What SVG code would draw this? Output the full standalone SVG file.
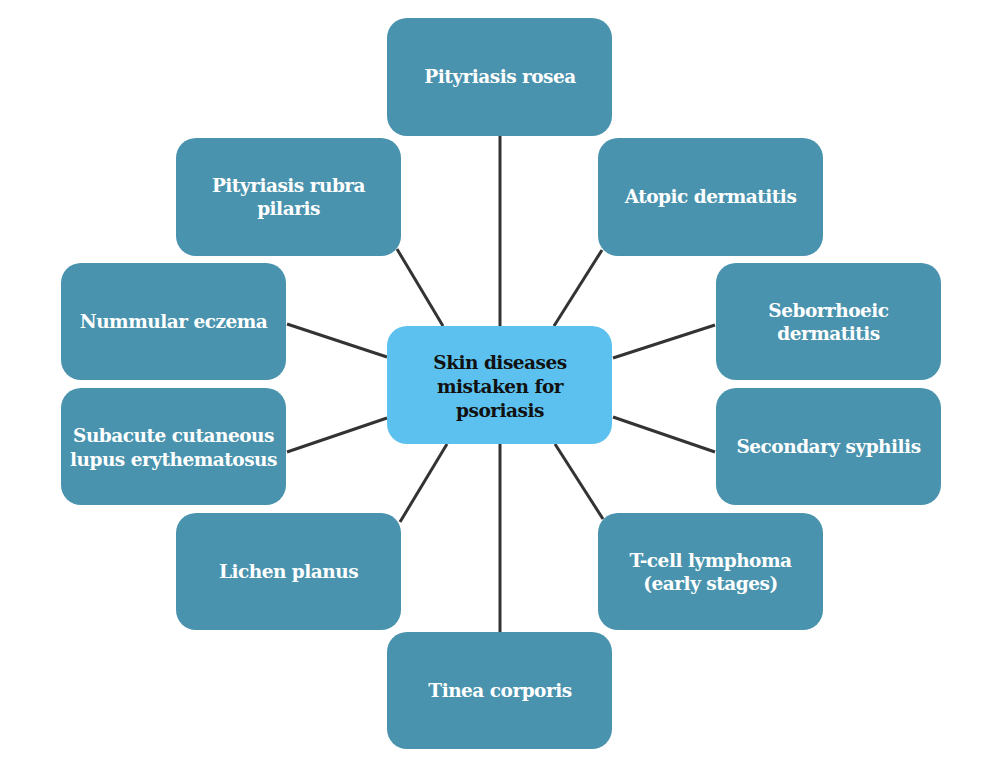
<svg xmlns="http://www.w3.org/2000/svg" width="1000" height="772" viewBox="0 0 1000 772">
<style>
.n{fill:#4993AE}
.c{fill:#5CC1EE}
.t{font-family:"DejaVu Serif","Liberation Serif",serif;font-weight:bold;font-size:18.5px;letter-spacing:-0.5px;fill:#fff;text-anchor:middle}
.tc{font-family:"DejaVu Serif","Liberation Serif",serif;font-weight:bold;font-size:18.5px;letter-spacing:-0.5px;fill:#111;text-anchor:middle}
.e{stroke:#333;stroke-width:3;fill:none}
</style>
<rect width="1000" height="772" fill="#fff"/>
<g id="connectors">
<line class="e" x1="500" y1="136" x2="500" y2="326"/>
<line class="e" x1="397" y1="249" x2="443" y2="326"/>
<line class="e" x1="602" y1="250" x2="554" y2="326"/>
<line class="e" x1="287" y1="324" x2="387" y2="357"/>
<line class="e" x1="715" y1="325" x2="613" y2="358"/>
<line class="e" x1="287" y1="452" x2="387" y2="418"/>
<line class="e" x1="613" y1="417" x2="715" y2="452"/>
<line class="e" x1="447" y1="444" x2="400" y2="522"/>
<line class="e" x1="555" y1="444" x2="603" y2="519"/>
<line class="e" x1="500" y1="444" x2="500" y2="632"/>
</g>
<g id="center"><rect class="c" x="387" y="326" width="225" height="118" rx="20"/>
<text class="tc" x="500" y="369">Skin diseases</text><text class="tc" x="500" y="393">mistaken for</text><text class="tc" x="500" y="417">psoriasis</text></g>
<g id="n1"><rect class="n" x="387" y="18" width="225" height="118" rx="20"/><text class="t" x="500" y="83">Pityriasis rosea</text></g>
<g id="n2"><rect class="n" x="176" y="138" width="225" height="118" rx="20"/><text class="t" x="288.5" y="192">Pityriasis rubra</text><text class="t" x="288.5" y="215">pilaris</text></g>
<g id="n3"><rect class="n" x="598" y="138" width="225" height="118" rx="20"/><text class="t" x="710.5" y="203">Atopic dermatitis</text></g>
<g id="n4"><rect class="n" x="61" y="263" width="225" height="117" rx="20"/><text class="t" x="173.5" y="328">Nummular eczema</text></g>
<g id="n5"><rect class="n" x="716" y="263" width="225" height="117" rx="20"/><text class="t" x="828.5" y="317">Seborrhoeic</text><text class="t" x="828.5" y="340">dermatitis</text></g>
<g id="n6"><rect class="n" x="61" y="388" width="225" height="117" rx="20"/><text class="t" x="173.5" y="442">Subacute cutaneous</text><text class="t" x="173.5" y="466">lupus erythematosus</text></g>
<g id="n7"><rect class="n" x="716" y="388" width="225" height="117" rx="20"/><text class="t" x="828.5" y="453">Secondary syphilis</text></g>
<g id="n8"><rect class="n" x="176" y="513" width="225" height="117" rx="20"/><text class="t" x="288.5" y="578">Lichen planus</text></g>
<g id="n9"><rect class="n" x="598" y="513" width="225" height="117" rx="20"/><text class="t" x="710.5" y="567">T-cell lymphoma</text><text class="t" x="710.5" y="590">(early stages)</text></g>
<g id="n10"><rect class="n" x="387" y="632" width="225" height="117" rx="20"/><text class="t" x="500" y="697">Tinea corporis</text></g>
</svg>
